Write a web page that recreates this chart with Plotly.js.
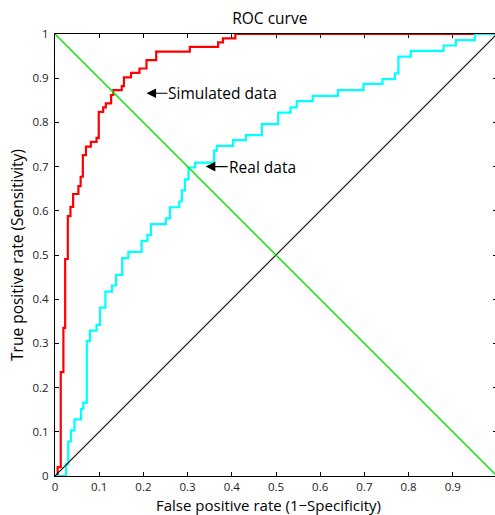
<!DOCTYPE html>
<html>
<head>
<meta charset="utf-8">
<script src="https://cdn.plot.ly/plotly-3.0.1.min.js"></script>
<style>
html, body { margin: 0; padding: 0; overflow: hidden; background: #fff; }
#chart { width: 498px; height: 515px; }
</style>
</head>
<body>
<div id="chart"></div>
<script>
// Simulated data ROC (step corners: FPR, TPR)
var simFPR = [0, 0.006, 0.013, 0.019, 0.023, 0.029, 0.035, 0.041, 0.053, 0.058, 0.063, 0.070, 0.081, 0.094, 0.099, 0.109, 0.115, 0.127, 0.132, 0.151, 0.156, 0.172, 0.191, 0.207, 0.229, 0.305, 0.369, 0.380, 0.408, 1.0];
var simTPR = [0, 0.020, 0.235, 0.335, 0.491, 0.588, 0.609, 0.638, 0.656, 0.677, 0.726, 0.745, 0.756, 0.765, 0.824, 0.834, 0.843, 0.862, 0.873, 0.882, 0.902, 0.912, 0.922, 0.941, 0.960, 0.971, 0.981, 0.990, 1.0, 1.0];

// Real data ROC
var realFPR = [0, 0.025, 0.030, 0.036, 0.044, 0.059, 0.064, 0.072, 0.079, 0.094, 0.102, 0.114, 0.129, 0.138, 0.152, 0.166, 0.196, 0.209, 0.217, 0.251, 0.260, 0.281, 0.287, 0.294, 0.302, 0.317, 0.360, 0.366, 0.403, 0.432, 0.468, 0.505, 0.533, 0.547, 0.583, 0.640, 0.698, 0.741, 0.769, 0.777, 0.805, 0.879, 0.907, 0.950, 1.0];
var realTPR = [0, 0.027, 0.078, 0.103, 0.128, 0.152, 0.166, 0.305, 0.329, 0.342, 0.381, 0.417, 0.431, 0.455, 0.493, 0.507, 0.532, 0.545, 0.570, 0.583, 0.608, 0.621, 0.646, 0.671, 0.698, 0.709, 0.736, 0.747, 0.760, 0.771, 0.796, 0.822, 0.834, 0.848, 0.860, 0.873, 0.887, 0.898, 0.911, 0.949, 0.962, 0.974, 0.986, 1.0, 1.0];

// Reference lines
var diagX = [0, 1];
var diagY = [0, 1];
var antiX = [0, 1];
var antiY = [1, 0];

// Ticks
var tickVals = [0, 0.1, 0.2, 0.3, 0.4, 0.5, 0.6, 0.7, 0.8, 0.9, 1];
var tickText = ['0', '0.1', '0.2', '0.3', '0.4', '0.5', '0.6', '0.7', '0.8', '0.9', '1'];

// Labels
var chartTitle = 'ROC curve';
var xTitle = 'False positive rate (1\u2212Specificity)';
var yTitle = 'True positive rate (Sensitivity)';
var simLabel = 'Simulated data';
var realLabel = 'Real data';
var simArrowAt = [0.207, 0.866];
var realArrowAt = [0.341, 0.700];

var FONT = '"Open Sans", "DejaVu Sans", sans-serif';

var traces = [
  {x: simFPR, y: simTPR, mode: 'lines', line: {shape: 'hv', color: '#ff0000', width: 2.2}, hoverinfo: 'skip'},
  {x: realFPR, y: realTPR, mode: 'lines', line: {shape: 'hv', color: '#00ffff', width: 2.2}, hoverinfo: 'skip'},
  {x: diagX, y: diagY, mode: 'lines', line: {color: '#000000', width: 1.1}, hoverinfo: 'skip'},
  {x: antiX, y: antiY, mode: 'lines', line: {color: 'rgb(0,230,0)', width: 1.4}, hoverinfo: 'skip'}
];

var axisCommon = {
  range: [0, 1],
  tickvals: tickVals,
  ticktext: tickText,
  ticks: 'inside',
  ticklen: 4,
  tickwidth: 1,
  tickcolor: '#000',
  showline: true,
  linecolor: '#000',
  linewidth: 1,
  mirror: 'ticks',
  showgrid: false,
  zeroline: false,
  layer: 'below traces',
  tickfont: {family: FONT, size: 11.5, color: '#222'}
};

var layout = {
  width: 498,
  height: 515,
  margin: {l: 55, r: 1, t: 34, b: 39, pad: 0},
  paper_bgcolor: '#fff',
  plot_bgcolor: '#fff',
  showlegend: false,
  title: {text: chartTitle, font: {family: FONT, size: 15.5, color: '#000'}, x: 0.486, xanchor: 'center', xref: 'paper', y: 1, yref: 'paper', yanchor: 'bottom', pad: {b: 10}},
  xaxis: Object.assign({}, axisCommon, {
    ticklabelstandoff: 0,
    title: {text: '', font: {family: FONT, size: 15, color: '#000'}}
  }),
  yaxis: Object.assign({}, axisCommon, {
    ticklabelstandoff: 3,
    title: {text: yTitle, font: {family: FONT, size: 15.5, color: '#000'}, standoff: 5}
  }),
  annotations: [
    {x: 0.482, y: 0, xref: 'paper', yref: 'paper', text: xTitle, showarrow: false,
     xanchor: 'center', yanchor: 'top', yshift: -18, borderpad: 0, font: {family: FONT, size: 15, color: '#000'}},
    {x: simArrowAt[0], y: simArrowAt[1], xref: 'x', yref: 'y', text: simLabel, showarrow: true,
     ax: 21, ay: 0, xanchor: 'left', yanchor: 'middle', arrowhead: 2, arrowsize: 1.6, arrowwidth: 1.2, arrowcolor: '#000',
     font: {family: FONT, size: 15.5, color: '#000'}, borderpad: 0},
    {x: realArrowAt[0], y: realArrowAt[1], xref: 'x', yref: 'y', text: realLabel, showarrow: true,
     ax: 22, ay: 0, xanchor: 'left', yanchor: 'middle', arrowhead: 2, arrowsize: 1.6, arrowwidth: 1.2, arrowcolor: '#000',
     font: {family: FONT, size: 15.5, color: '#000'}, borderpad: 0}
  ]
};

Plotly.newPlot('chart', traces, layout, {displayModeBar: false, staticPlot: true});
</script>
</body>
</html>
